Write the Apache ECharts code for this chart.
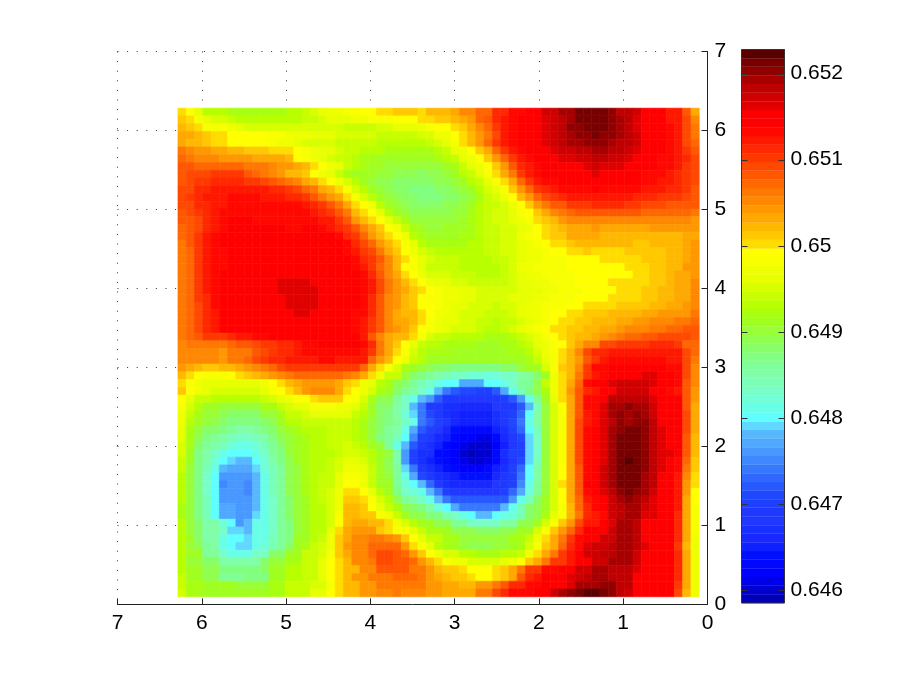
<!DOCTYPE html>
<html>
<head>
<meta charset="utf-8">
<style>html,body{margin:0;padding:0;background:#fff}#c{width:905px;height:681px}</style>
<script src="https://cdn.jsdelivr.net/npm/echarts@6/dist/echarts.min.js"></script>
</head>
<body>
<div id="c"></div>
<script>
// Each number is (value - 0.645) in units of 0.0001.
// Rows run top (y = 6.28) to bottom; columns run left (x = 6.28) to right.
const valueBase = 0.645;
const valueUnit = 0.0001;
const cellStep = 0.09817;
const axisTicks = [0, 1, 2, 3, 4, 5, 6, 7];
const colorbarTicks = [0.646, 0.647, 0.648, 0.649, 0.65, 0.651, 0.652];
const colorMin = 0.64585;
const colorMax = 0.65228;
const colormap = [
'#0000b8','#0000d0','#0000e8','#0000ff','#0008ff','#0010ff','#1020ff','#1828ff','#1830ff','#2038ff',
'#2038ff','#2040ff','#2048ff','#2858ff','#3068ff','#3878ff','#4088ff','#4898ff','#50a8ff','#58b8ff',
'#60d8ff','#60ffff','#68ffe8','#70ffd8','#78ffc8','#78ffb8','#80ffa8','#80ff98','#80ff80','#88ff68',
'#90ff50','#98ff38','#a0ff20','#a8ff10','#b8ff00','#c8ff00','#d8ff00','#e8ff00','#f0ff00','#f8ff00',
'#ffff00','#ffdc00','#ffc800','#ffb800','#ffa800','#ff9800','#ff8800','#ff7800','#ff6800','#ff5800',
'#ff4800','#ff3800','#ff2800','#ff1800','#ff0800','#ff0000','#ff0000','#e00000','#d00000','#c00000',
'#a80000','#900000','#780000','#580000'];
const heatRows = [
[50,49,46,43,43,43,42,42,42,42, 42,42,42,43,43,44,45,46,47,47, 48,48,49,49,50,50,51,51,51,50, 52,52,52,53,55,55,57,57,61,61, 63,63,65,65,67,67,69,69,71,71, 71,71,70,68,68,67,65,65,65,62, 62,58,53],
[51,50,48,46,45,45,44,43,43,43, 43,43,43,43,43,44,44,45,46,46, 46,47,47,48,48,48,49,49,49,50, 50,51,51,52,53,54,57,58,61,62, 63,64,65,65,66,67,68,69,71,71, 71,71,70,69,68,66,65,64,64,62, 62,59,55],
[52,51,50,48,48,48,47,46,45,45, 45,45,45,45,45,45,45,45,45,45, 44,44,44,44,45,45,46,46,46,47, 48,49,49,50,51,53,55,57,60,62, 63,64,64,65,66,67,68,70,70,71, 71,71,70,69,68,66,65,64,64,63, 62,59,56],
[53,53,52,51,50,50,49,49,49,49, 49,48,48,47,47,47,46,46,46,45, 45,45,45,45,44,44,44,44,44,45, 45,47,47,49,50,52,54,56,59,62, 63,64,64,65,66,67,68,69,70,70, 71,70,70,69,68,67,65,64,64,63, 62,59,56],
[53,52,52,51,50,50,49,49,49,49, 49,48,47,47,46,45,45,45,45,44, 44,44,44,44,43,43,43,43,43,43, 44,45,46,48,50,52,54,57,60,62, 63,64,64,65,66,67,68,69,69,70, 70,70,69,68,68,67,65,64,64,63, 62,59,57],
[56,55,54,54,53,53,52,52,51,51, 51,50,50,50,49,48,47,46,46,45, 44,44,43,43,43,42,42,42,42,42, 42,43,44,46,47,49,51,53,57,60, 62,63,64,64,65,66,67,67,68,68, 69,69,68,68,67,66,65,64,64,63, 62,60,58],
[57,56,55,55,55,54,54,54,54,53, 53,53,53,52,49,48,47,46,45,44, 44,43,42,42,41,41,41,41,41,41, 41,42,43,44,46,47,49,51,54,57, 60,62,63,64,64,65,66,66,67,67, 68,68,67,67,66,65,65,64,63,63, 62,61,59],
[58,58,57,57,57,57,57,57,56,56, 56,55,54,54,53,52,50,49,47,46, 44,43,42,41,41,40,40,40,40,40, 40,40,41,42,44,46,47,49,51,54, 58,61,62,63,64,65,65,65,65,66, 67,66,66,66,65,65,64,64,63,63, 62,60,59],
[58,59,59,59,60,60,60,60,58,57, 56,55,54,52,52,51,49,47,46,44, 42,41,41,41,40,40,39,39,39,38, 39,39,40,41,43,44,46,48,50,53, 56,60,62,63,64,64,64,64,65,65, 66,65,65,65,64,64,63,63,63,62, 61,60,59],
[58,59,60,60,61,61,61,61,60,60, 59,58,57,56,55,53,52,50,49,47, 45,43,41,40,39,39,38,38,38,38, 38,39,39,40,41,43,44,46,48,50, 53,57,60,62,63,63,64,64,64,65, 65,65,65,64,64,64,63,63,62,62, 61,60,59],
[59,59,61,61,62,62,62,62,62,62, 62,61,61,60,59,57,56,53,52,50, 48,45,43,41,40,39,38,38,37,37, 37,38,38,39,40,41,43,45,46,48, 51,54,57,60,61,62,63,63,63,63, 64,63,63,63,63,63,62,62,62,61, 61,60,58],
[59,60,61,62,62,62,63,63,63,63, 62,62,62,61,61,60,58,56,54,53, 50,48,45,43,41,40,39,38,38,37, 37,37,38,38,39,40,42,44,45,47, 49,52,54,57,59,60,61,62,62,62, 62,62,62,62,62,61,61,61,60,60, 60,59,58],
[59,59,61,61,62,62,63,63,63,63, 63,63,63,63,63,62,61,60,58,56, 53,50,49,47,43,41,40,39,38,38, 38,38,39,39,40,41,43,44,44,45, 47,49,51,54,56,58,58,60,60,60, 61,61,61,61,60,60,59,59,59,58, 58,58,58],
[58,59,60,61,62,63,63,63,63,63, 63,63,63,63,63,63,62,61,60,58, 56,52,50,49,46,43,41,40,39,39, 39,39,39,40,40,42,43,44,45,45, 46,48,49,51,53,55,56,57,58,58, 58,58,58,58,58,58,57,57,57,57, 57,57,56],
[58,58,59,61,62,63,64,64,64,63, 63,63,63,63,63,63,63,62,62,60, 58,54,52,50,49,46,44,42,40,40, 40,40,40,40,41,42,43,44,45,45, 46,47,48,50,51,52,54,55,55,55, 55,55,55,55,55,55,55,55,55,55, 55,55,54],
[57,58,59,61,62,63,64,64,64,64, 64,64,64,63,63,64,64,63,62,61, 60,58,55,53,51,49,47,44,42,41, 40,40,41,41,41,42,43,44,44,45, 45,46,47,49,50,51,52,53,53,53, 54,53,53,53,53,53,53,54,54,54, 54,54,54],
[57,58,60,62,63,64,64,64,64,64, 64,64,64,64,64,64,64,64,64,63, 61,60,57,54,52,50,49,47,43,42, 41,41,41,41,42,42,43,44,44,45, 45,47,48,49,50,51,51,53,53,53, 53,52,52,52,52,52,52,52,52,52, 52,53,53],
[56,58,60,62,63,64,64,64,64,64, 64,64,64,64,64,64,64,64,64,64, 63,61,59,57,54,52,50,48,46,43, 42,42,42,42,42,43,43,44,44,45, 45,46,47,48,49,50,50,51,52,52, 52,52,52,52,52,51,51,52,52,52, 52,53,54],
[56,57,60,62,63,63,64,64,64,64, 64,64,64,64,64,64,64,64,64,64, 63,62,60,59,56,53,51,49,47,45, 44,43,43,43,43,43,43,44,44,45, 45,46,47,47,48,49,49,50,50,51, 50,50,50,50,51,51,51,51,51,52, 52,53,54],
[56,57,60,62,63,63,64,64,64,64, 64,64,65,64,64,64,64,64,64,64, 64,63,61,60,58,55,52,50,48,46, 45,44,44,44,43,43,43,43,44,44, 45,46,47,47,48,48,48,49,49,49, 49,50,50,50,50,50,51,51,51,52, 52,53,54],
[56,57,60,62,63,63,64,64,64,64, 64,64,65,65,65,64,64,64,64,64, 64,63,62,60,57,55,52,49,48,46, 44,44,44,44,43,43,43,43,43,44, 45,47,47,48,48,48,48,49,49,49, 49,49,49,49,50,50,50,51,51,52, 52,54,54],
[56,57,60,62,63,64,64,64,64,64, 64,64,65,65,65,65,65,65,64,64, 64,64,63,61,58,55,53,50,49,47, 45,45,45,44,44,44,43,43,43,44, 45,46,47,47,48,48,48,48,49,49, 49,49,49,49,49,50,50,51,51,52, 53,53,54],
[56,57,60,62,63,64,64,64,64,64, 64,65,66,66,66,66,65,65,65,64, 64,64,63,62,59,56,54,52,50,49, 47,46,46,45,45,44,44,44,44,44, 45,46,46,47,47,48,48,48,49,49, 49,49,50,50,50,50,50,51,51,52, 53,53,55],
[56,57,60,62,63,64,64,64,64,64, 64,65,66,66,66,66,66,65,65,64, 64,64,63,62,59,56,54,53,51,50, 49,48,47,47,46,46,45,45,45,45, 45,46,46,46,47,47,48,48,48,49, 49,49,49,50,50,50,51,51,52,52, 53,53,55],
[56,57,60,61,63,64,64,64,64,64, 64,64,65,66,66,66,66,65,64,64, 64,64,63,61,58,55,54,52,51,49, 48,48,47,47,46,46,45,45,45,45, 46,46,46,47,47,48,48,48,49,49, 49,49,50,50,50,50,51,51,52,52, 53,53,55],
[56,57,59,61,63,64,64,64,64,64, 64,64,65,66,66,66,66,65,64,64, 64,64,63,61,58,55,54,52,51,49, 49,48,47,46,46,45,45,45,44,45, 45,46,47,47,48,48,48,49,49,50, 50,50,50,51,51,51,51,52,52,53, 53,54,55],
[56,57,59,61,62,64,64,64,64,64, 64,64,64,65,66,66,65,65,64,64, 64,63,63,61,58,55,53,52,52,50, 49,47,47,46,45,45,45,44,44,44, 45,46,47,47,48,49,49,50,50,51, 51,51,52,52,52,52,53,53,54,54, 54,54,56],
[56,57,59,61,62,64,64,64,64,64, 64,64,64,64,65,65,64,64,64,64, 64,63,62,60,58,55,53,53,52,50, 48,47,46,46,45,45,44,44,43,44, 44,45,46,47,48,49,50,50,51,51, 52,52,52,53,53,54,54,55,55,55, 56,56,57],
[56,57,59,61,62,64,64,64,64,64, 64,64,64,64,64,64,64,64,64,64, 64,63,62,60,58,55,54,53,51,49, 48,47,46,45,45,45,44,43,43,44, 45,46,47,48,49,50,50,51,51,52, 52,53,53,54,55,55,55,56,56,57, 57,58,58],
[56,57,58,60,60,60,61,62,62,63, 63,64,64,64,64,64,64,64,64,64, 64,64,62,58,55,53,52,52,50,48, 45,44,44,43,43,43,43,42,42,42, 43,44,45,46,48,49,50,51,52,52, 53,54,55,56,57,57,58,58,59,59, 59,59,58],
[55,56,56,56,56,56,57,58,58,59, 60,60,61,61,62,63,63,64,64,64, 64,64,63,61,56,53,51,49,46,44, 43,43,42,42,42,42,41,41,41,42, 42,43,44,46,47,48,49,51,53,55, 55,59,59,60,60,60,60,61,61,61, 60,57,57],
[55,55,55,55,55,54,56,56,56,58, 59,60,61,61,62,63,63,63,63,63, 63,63,62,60,56,53,50,48,45,43, 42,42,42,41,41,41,41,41,41,41, 42,42,43,45,47,48,50,52,55,59, 61,61,62,62,62,62,62,62,62,62, 62,59,57],
[55,55,55,55,55,54,56,56,57,59, 60,61,61,62,62,62,62,63,63,62, 62,62,62,57,54,52,49,47,44,43, 41,41,41,41,41,41,41,41,41,41, 41,41,42,44,46,48,50,52,54,58, 60,62,63,63,63,63,63,63,63,62, 62,59,56],
[54,53,52,51,51,52,52,53,54,55, 56,57,59,60,60,60,60,60,60,60, 60,60,57,53,50,48,45,42,41,40, 39,38,38,37,37,37,37,37,37,38, 38,40,41,41,45,48,51,52,55,60, 63,63,64,65,65,65,65,64,64,63, 63,59,55],
[52,50,49,48,48,48,49,50,51,52, 53,54,55,56,57,57,57,57,57,57, 56,55,53,50,47,44,44,40,38,37, 36,35,34,33,33,32,32,32,32,33, 33,35,36,38,41,47,50,52,56,60, 62,63,64,65,65,65,66,66,64,64, 63,59,55],
[50,48,47,46,46,46,46,46,46,46, 47,49,50,52,53,54,54,54,54,53, 51,50,47,46,43,42,39,38,36,34, 33,31,30,30,27,27,27,30,30,31, 33,36,36,39,44,47,50,53,57,63, 64,65,66,67,67,67,67,66,65,64, 63,58,55],
[51,49,47,46,45,45,45,45,45,45, 46,48,49,50,52,54,55,55,55,53, 50,49,47,45,42,41,38,36,35,33, 31,28,24,22,21,21,20,20,22,27, 31,34,37,39,42,47,50,54,58,61, 62,64,64,67,67,67,67,64,64,63, 62,58,54],
[49,46,44,44,43,43,43,43,43,43, 44,45,46,47,49,49,50,51,51,51, 49,48,45,42,39,39,36,33,31,28, 26,22,19,19,18,18,18,18,19,20, 22,26,31,36,41,46,50,53,58,63, 63,65,68,68,68,68,68,66,64,64, 64,58,54],
[48,45,43,41,41,40,40,40,40,40, 42,42,44,45,46,46,48,48,48,47, 47,46,44,41,38,38,35,33,28,24, 19,19,17,17,16,16,16,16,18,18, 19,22,28,34,40,45,49,53,58,63, 63,66,69,69,70,69,69,67,64,64, 64,58,53],
[47,44,42,40,40,39,38,38,38,38, 40,40,42,44,44,45,46,46,46,46, 46,44,43,41,38,37,35,32,29,24, 21,19,17,16,15,15,15,15,17,18, 20,23,30,35,40,45,48,53,58,62, 63,66,69,70,69,70,69,67,65,64, 64,59,53],
[47,43,41,40,39,38,37,37,37,37, 38,39,41,43,43,44,44,44,44,44, 44,43,42,40,38,37,36,33,31,24, 22,20,18,16,15,15,15,15,17,18, 21,24,31,35,40,45,48,53,59,62, 63,66,68,70,69,70,70,68,65,65, 64,59,53],
[46,42,40,38,38,37,36,35,35,36, 37,38,40,41,42,43,43,43,44,44, 44,43,42,40,38,36,35,31,27,22, 20,18,16,14,13,13,13,13,15,17, 20,23,30,34,40,45,48,53,59,63, 64,66,69,70,71,71,70,68,66,65, 64,59,53],
[46,42,39,37,36,35,34,33,33,34, 35,37,39,40,41,42,43,43,44,44, 44,43,42,40,37,36,34,30,25,20, 18,16,15,13,12,12,11,11,13,16, 19,21,29,33,40,45,48,53,59,63, 64,66,69,71,71,71,70,68,66,65, 64,58,52],
[45,42,38,36,35,34,32,31,31,32, 34,36,38,40,41,42,43,43,44,44, 45,44,43,41,40,36,31,28,22,18, 17,15,13,12,11,10,10,10,12,15, 19,20,29,33,40,45,48,53,59,63, 64,66,69,71,71,71,70,68,66,65, 64,58,52],
[45,41,37,35,33,31,30,30,30,31, 33,36,37,40,41,42,43,43,43,44, 45,45,44,43,41,40,35,26,20,17, 17,13,13,12,10,9,10,10,13,17, 20,20,29,33,40,45,48,53,59,63, 64,66,69,71,71,71,70,68,66,66, 64,58,52],
[44,41,37,35,32,30,29,28,28,30, 32,35,37,39,41,42,43,43,44,45, 46,46,45,43,41,39,35,26,20,17, 15,14,13,12,11,10,10,11,13,16, 19,21,29,34,40,45,48,53,59,63, 64,66,69,71,72,71,70,68,66,65, 63,57,51],
[44,40,37,34,31,28,27,27,27,29, 32,34,36,39,40,42,43,43,44,45, 47,47,46,44,41,39,36,29,24,19, 17,15,14,13,12,12,12,13,15,17, 20,23,30,35,40,45,49,53,58,63, 64,67,69,71,71,71,70,68,66,65, 63,56,51],
[43,40,37,33,30,26,26,26,26,28, 31,34,36,39,40,42,43,44,44,46, 48,48,47,44,41,40,36,31,27,21, 18,17,16,15,14,14,14,14,16,18, 20,24,30,35,40,45,49,53,58,63, 64,67,69,71,71,71,69,68,65,65, 62,55,50],
[43,40,37,33,30,25,26,26,25,28, 31,34,36,39,40,42,43,44,44,46, 49,49,47,44,41,41,36,32,30,28, 23,19,17,16,16,16,16,16,18,19, 20,25,31,36,40,45,50,53,58,64, 64,67,69,71,71,71,69,68,65,65, 62,54,50],
[43,40,37,33,30,26,26,26,25,28, 31,34,36,39,40,42,43,44,45,47, 50,50,49,46,43,41,37,33,32,31, 28,24,20,19,18,18,18,18,19,20, 23,27,32,36,40,45,49,53,58,63, 64,66,68,70,71,70,69,67,65,65, 62,54,49],
[43,40,37,34,30,26,26,26,26,28, 31,33,36,38,40,41,43,44,45,47, 51,51,50,48,45,43,39,36,35,33, 31,28,24,22,22,22,22,22,22,22, 26,31,34,38,41,45,49,53,57,62, 63,65,67,69,70,69,68,66,65,64, 62,53,49],
[42,40,37,34,30,27,27,26,26,28, 31,33,36,38,40,41,43,43,45,47, 52,52,51,49,46,44,42,39,38,37, 35,32,30,27,24,24,24,24,24,28, 31,34,38,39,41,45,48,52,57,61, 63,64,67,68,69,69,67,66,64,64, 62,53,48],
[42,40,37,34,30,27,27,26,26,29, 31,33,36,38,40,41,43,43,45,48, 52,52,51,51,48,47,44,41,39,39, 37,37,34,33,31,30,28,28,30,31, 32,34,38,39,42,46,48,52,56,61, 62,63,67,68,69,69,66,66,64,64, 61,53,48],
[43,40,38,35,35,32,30,26,28,31, 31,33,36,37,40,41,43,43,45,49, 52,53,53,52,52,50,47,45,43,41, 41,39,39,36,36,33,33,33,33,35, 35,39,39,41,45,48,51,54,59,62, 62,64,66,69,69,68,64,64,64,64, 61,53,48],
[43,40,38,35,35,33,29,29,28,31, 31,33,36,37,40,41,43,43,46,50, 53,54,54,54,51,50,48,48,46,44, 42,42,41,39,39,39,38,38,38,39, 39,41,41,45,48,51,54,57,61,64, 64,65,67,69,69,68,65,65,64,64, 61,53,48],
[43,41,38,35,35,31,30,30,29,31, 31,34,36,37,41,41,43,44,47,51, 53,55,55,56,56,55,54,51,49,46, 44,44,42,42,40,40,40,40,40,40, 42,42,44,47,50,53,56,60,63,65, 65,67,67,69,69,68,65,65,64,64, 61,53,47],
[43,40,39,36,35,31,30,29,29,31, 32,34,36,38,41,42,44,45,47,51, 54,55,55,57,57,57,57,54,50,48, 46,43,42,41,40,39,39,39,40,40, 41,42,45,48,51,53,57,61,63,66, 67,67,68,69,69,68,66,65,64,64, 60,52,47],
[43,41,41,36,36,33,31,31,31,33, 33,38,38,41,41,44,44,45,48,51, 53,55,55,57,59,59,58,57,54,51, 49,47,45,45,43,43,42,42,42,43, 43,44,47,50,53,56,60,62,64,67, 67,68,68,69,69,67,65,65,64,64, 61,53,47],
[43,40,40,38,38,35,35,35,35,35, 38,40,40,42,42,44,44,46,49,50, 52,55,55,56,59,59,58,58,57,54, 52,50,48,47,47,45,45,45,45,46, 47,49,51,53,56,60,60,62,64,64, 67,67,69,69,69,67,64,64,64,64, 61,53,47],
[43,41,41,39,39,37,37,37,37,37, 38,41,41,43,43,44,44,46,49,50, 52,52,55,55,58,58,58,58,56,56, 54,52,51,51,50,49,49,49,50,51, 53,56,60,60,63,63,64,64,67,67, 69,69,68,68,68,66,64,64,64,64, 61,53,47],
[44,41,41,39,39,36,36,36,37,37, 37,41,41,43,43,44,44,46,49,50, 52,54,54,56,56,56,57,57,57,56, 54,53,52,51,51,50,49,49,50,51, 53,58,61,62,64,64,65,66,67,68, 69,69,68,68,68,65,65,64,64,64, 61,53,47],
[44,42,42,41,41,41,41,40,40,40, 40,42,42,44,44,44,45,45,48,50, 52,52,54,54,56,56,56,56,56,56, 54,54,53,53,52,52,54,54,56,58, 61,61,63,63,64,64,64,66,69,69, 69,70,70,68,68,65,65,64,64,64, 60,53,47],
[45,42,42,41,41,41,41,41,41,41, 41,42,42,44,44,44,46,46,49,50, 52,52,54,54,55,55,56,55,55,55, 54,54,53,53,53,53,56,56,59,61, 63,63,63,65,65,67,69,70,71,72, 72,71,70,68,67,64,64,64,64,64, 59,52,47]
];

const heatData = [];
heatRows.forEach(function (row, r) {
  row.forEach(function (n, c) {
    heatData.push([cellStep * (64 - c), cellStep * (64 - r), valueBase + n * valueUnit]);
  });
});

function colorOf(v) {
  var i = Math.floor((v - colorMin) / (colorMax - colorMin) * colormap.length);
  return colormap[Math.max(0, Math.min(colormap.length - 1, i))];
}
const barStep = (colorMax - colorMin) / colormap.length;
const barData = colormap.map(function (col, i) { return [colorMin + i * barStep, i]; });
const barTickData = colorbarTicks.map(function (v) { return [v]; });

const font = 'Liberation Sans';
const dots = { show: true, lineStyle: { color: '#333', width: 1, type: [1, 8.6] } };

const chart = echarts.init(document.getElementById('c'), null, { renderer: 'canvas' });
chart.setOption({
  animation: false,
  backgroundColor: '#fff',
  grid: [
    { left: 117.5, top: 51.5, width: 590, height: 553 },
    { left: 741.5, top: 49.5, width: 43, height: 553.5, show: true, z: 4, borderColor: '#333', borderWidth: 1, backgroundColor: 'transparent' }
  ],
  xAxis: [
    { gridIndex: 0, type: 'value', inverse: true, min: 0, max: 7, interval: 1, position: 'bottom',
      axisLine: { show: true, onZero: false, lineStyle: { color: '#222', width: 1 } },
      axisTick: { show: true, inside: true, length: 6, lineStyle: { color: '#222' } },
      axisLabel: { color: '#000', fontFamily: font, fontSize: 21, margin: 8,
        showMinLabel: true, showMaxLabel: true,
        customValues: axisTicks, formatter: function (v) { return String(v); } },
      splitLine: dots },
    { gridIndex: 1, type: 'value', min: 0, max: 1, show: false }
  ],
  yAxis: [
    { gridIndex: 0, type: 'value', min: 0, max: 7, interval: 1, position: 'right',
      axisLine: { show: true, onZero: false, lineStyle: { color: '#222', width: 1 } },
      axisTick: { show: true, inside: true, length: 6, lineStyle: { color: '#222' } },
      axisLabel: { color: '#000', fontFamily: font, fontSize: 21, margin: 7,
        showMinLabel: true, showMaxLabel: true,
        customValues: axisTicks, formatter: function (v) { return String(v); } },
      splitLine: dots },
    { gridIndex: 1, type: 'value', min: colorMin, max: colorMax, position: 'right',
      axisLine: { show: false },
      axisTick: { show: false },
      axisLabel: { color: '#000', fontFamily: font, fontSize: 21, margin: 6,
        customValues: colorbarTicks, formatter: function (v) { return String(v); } },
      splitLine: { show: false } }
  ],
  series: [
    { type: 'custom', xAxisIndex: 0, yAxisIndex: 0, coordinateSystem: 'cartesian2d', silent: true,
      progressive: 0, clip: false, encode: { x: 0, y: 1 }, data: heatData,
      renderItem: function (params, api) {
        var x = api.value(0), y = api.value(1);
        var a = api.coord([x, y]), b = api.coord([x - cellStep, y - cellStep]);
        var col = colorOf(api.value(2));
        return { type: 'rect', shape: { x: a[0], y: a[1], width: b[0] - a[0], height: b[1] - a[1] },
          style: { fill: col, stroke: col, lineWidth: 0.6 } };
      } },
    { type: 'custom', xAxisIndex: 1, yAxisIndex: 1, coordinateSystem: 'cartesian2d', silent: true,
      progressive: 0, encode: { y: 0 }, data: barData, z: 1,
      renderItem: function (params, api) {
        var v = api.value(0);
        var a = api.coord([0, v + barStep]), b = api.coord([1, v]);
        return { type: 'rect', shape: { x: a[0], y: a[1], width: b[0] - a[0], height: b[1] - a[1] },
          style: { fill: colormap[api.value(1)], stroke: colormap[api.value(1)], lineWidth: 0.3 } };
      } },
    { type: 'custom', xAxisIndex: 1, yAxisIndex: 1, coordinateSystem: 'cartesian2d', silent: true,
      progressive: 0, encode: { y: 0 }, data: barTickData, z: 6,
      renderItem: function (params, api) {
        var v = api.value(0);
        var l = api.coord([0, v]), r = api.coord([1, v]);
        var y = Math.round(l[1]) + 0.5;
        var st = { stroke: '#333', lineWidth: 1 };
        return { type: 'group', children: [
          { type: 'line', shape: { x1: l[0], y1: y, x2: l[0] + 6, y2: y }, style: st },
          { type: 'line', shape: { x1: r[0] - 6, y1: y, x2: r[0], y2: y }, style: st }
        ] };
      } }
  ]
});
</script>
</body>
</html>
